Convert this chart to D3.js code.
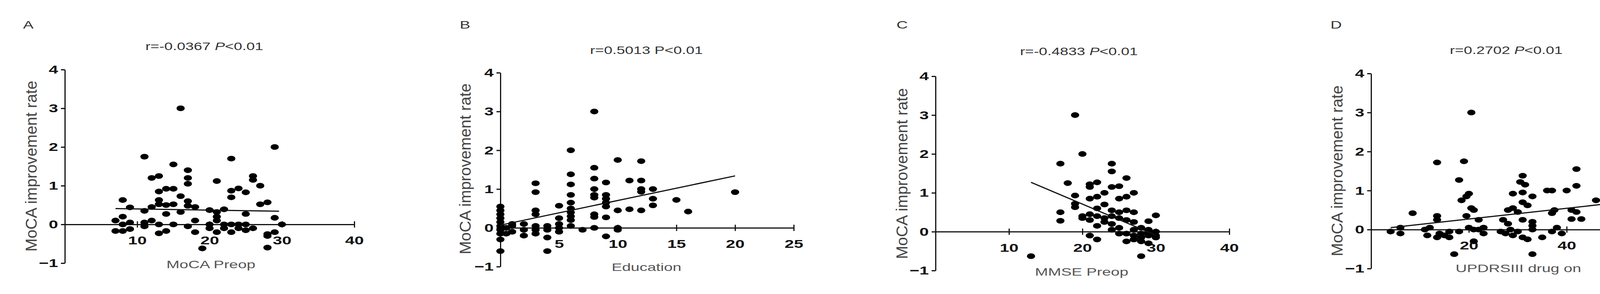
<!DOCTYPE html>
<html>
<head>
<meta charset="utf-8">
<script src="https://d3js.org/d3.v7.min.js"></script>
<style>
  html, body { margin: 0; padding: 0; background: #fff; overflow: hidden; }
  svg { display: block; }
  text { font-family: "Liberation Sans", Arial, sans-serif; }
</style>
</head>
<body>
<div class="vis"></div>
<script>
// ---- data ----
var yTicks = [-1, 0, 1, 2, 3, 4];

var moca_x = [16,29,11,23,15,17,13,12,17,17,21,26,26,27,13,14,15,24,25,23,23,16,8,27,28,13,13,17,17,9,11,12,14,15,14,16,18,20,21,22,21,25,29,8,
  7,7,8,8,9,9,11,11,12,13,13,14,15,17,18,18,19,20,20,21,21,22,22,23,23,24,24,25,25,26,28,28,28,29,30];
var moca_y = [3.0,2.0,1.75,1.7,1.55,1.4,1.25,1.2,1.2,1.05,1.12,1.25,1.15,1.0,0.85,0.92,0.92,0.93,0.83,0.87,0.7,0.73,0.63,0.52,0.57,0.63,0.52,0.6,0.48,0.44,0.35,0.45,0.5,0.52,0.27,0.32,0.45,0.37,0.32,0.39,0.2,0.27,0.17,0.2,
  0.1,-0.17,-0.17,0,-0.12,0.05,0.05,-0.05,0.1,0,-0.23,-0.17,0,-0.05,0.1,-0.2,-0.62,0,-0.1,-0.2,0.1,0,-0.1,-0.2,0,-0.1,0,-0.15,0,-0.1,-0.25,-0.3,-0.6,-0.2,0];

var edu_x = [8,6,10,12,8,6,8,3,9,11,12,6,12,13,8,12,3,20,8,9,6,8,9,13,15,9,6,9,5,13,6,11,10,12,3,16,6,3,8,6,8,9,5,6,5,6,8,7,10,10,9,4,4,4,4,5,5,3,3,3,2,2,2,1,1,1,
  0,0,0,0,0,0,0,0,0,0,0.5,0.5];
var edu_y = [3.0,2.0,1.75,1.72,1.55,1.38,1.27,1.15,1.17,1.22,1.22,1.12,1.0,1.0,1.0,0.93,0.92,0.92,0.85,0.85,0.85,0.78,0.75,0.75,0.72,0.65,0.65,0.55,0.57,0.58,0.5,0.48,0.45,0.45,0.45,0.42,0.4,0.35,0.35,0.3,0.28,0.27,0.25,0.2,0.1,0.05,0,-0.05,0,-0.05,-0.22,-0.6,-0.25,-0.05,0.05,-0.1,0,-0.15,-0.05,0.05,-0.2,-0.05,0.1,-0.1,0.05,0.1,
  0.55,0.45,0.35,0.25,0.15,0.05,-0.05,-0.15,-0.3,-0.6,-0.15,0];

var mmse_x = [19,20,17,24,24,26,18,22,21,21,24,25,27,23,19,21,22,25,26,19,19,23,22,24,17,26,25,27,20,21,22,23,24,25,30,17,20,21,23,24,26,27,29,22,24,25,28,29,30,
  21,22,25,26,26,27,27,28,28,28,29,29,30,29,13,28,30,27];
var mmse_y = [3.0,2.0,1.75,1.75,1.55,1.38,1.25,1.27,1.22,1.15,1.15,1.17,1.0,1.0,0.93,0.85,0.9,0.85,0.9,0.72,0.63,0.7,0.6,0.55,0.5,0.55,0.5,0.5,0.4,0.45,0.4,0.35,0.4,0.35,0.42,0.28,0.35,0.3,0.25,0.2,0.3,0.25,0.27,0.15,0.05,0.1,0.1,0.05,0,
  -0.1,-0.2,-0.05,-0.05,-0.25,-0.1,-0.2,-0.05,-0.15,-0.25,-0.1,-0.3,-0.15,-0.05,-0.63,-0.63,-0.1,0.05];

var updrs_x = [20.5,19,13.5,48,42,18,31,30.5,31.5,42,48,36,37,40,29,20,19.5,31,33,18.5,46,48,31,32,55,20.5,21,28,29,30,37.5,41,42,37,8.5,13.5,19.5,13.5,22,27,31,33,41,43,52,57,
  4,6,6,11,11.5,12,13.5,14,15,16,16,18,20,21,22,23,23,26.5,27.5,28,28.5,29,30,31,32,33,33,35,37,38,39,21,17,33];
var updrs_y = [3.0,1.75,1.72,2.0,1.55,1.27,1.38,1.22,1.15,1.12,1.22,1.0,1.0,1.0,0.92,0.92,0.85,0.95,0.85,0.75,0.75,0.78,0.7,0.62,0.62,0.55,0.5,0.5,0.55,0.45,0.5,0.5,0.45,0.42,0.42,0.35,0.35,0.25,0.25,0.25,0.25,0.2,0.27,0.27,0.35,0.35,
  -0.05,0.05,-0.1,0,-0.15,0.05,-0.2,-0.1,-0.15,-0.05,-0.2,-0.05,0.05,0,0,0.05,-0.1,-0.05,-0.1,0.15,0,-0.15,-0.05,-0.2,-0.25,0.1,0,-0.2,-0.05,0.05,-0.1,-0.3,-0.63,-0.63];

// fitted lines: [x0, y0, x1, y1]
var fitA = [7, 0.41, 29.6, 0.34];
var fitB = [0, 0.07, 20, 1.34];
var fitC = [13, 1.27, 30, -0.09];
var fitD = [4, 0.05, 57, 0.78];

// layout in pixels
var panels = [
  { letter: "A", r: "r=-0.0367 ", italicP: true, xlab: "MoCA Preop", xs: moca_x, ys: moca_y, fit: fitA,
    xMax: 40, xTicks: [10, 20, 30, 40],
    left: 166, right: 907, top: 178, bottom: 673, letterX: 59, titleX: 523, titleY: 128, ylabX: 80, ylabY: 425, xlabX: 540, xlabY: 686 },
  { letter: "B", r: "r=0.5013 ", italicP: false, xlab: "Education", xs: edu_x, ys: edu_y, fit: fitB,
    xMax: 25, xTicks: [5, 10, 15, 20, 25],
    left: 1281, right: 2032, top: 186, bottom: 682, letterX: 1177, titleX: 1655, titleY: 138, ylabX: 1191, ylabY: 432, xlabX: 1655, xlabY: 693 },
  { letter: "C", r: "r=-0.4833 ", italicP: true, xlab: "MMSE Preop", xs: mmse_x, ys: mmse_y, fit: fitC,
    xMax: 40, xTicks: [10, 20, 30, 40],
    left: 2395, right: 3147, top: 195, bottom: 692, letterX: 2295, titleX: 2762, titleY: 141, ylabX: 2309, ylabY: 444, xlabX: 2769, xlabY: 705 },
  { letter: "D", r: "r=0.2702 ", italicP: true, xlab: "UPDRSIII drug on", xs: updrs_x, ys: updrs_y, fit: fitD,
    xMax: 60, xTicks: [20, 40, 60],
    left: 3510, right: 4261, top: 188, bottom: 687, letterX: 3406, titleX: 3856, titleY: 138, ylabX: 3423, ylabY: 437, xlabX: 3887, xlabY: 696 }
];

// the reference is stretched sideways: widen glyphs and dots by K
var W = 4316, H = 752, K = 1.436;
var svg = d3.select(".vis").append("svg").attr("width", W).attr("height", H);

function label(g, x, y, size, fill) {
  return g.append("text")
    .attr("transform", `translate(${x},${y}) scale(${K},1)`)
    .attr("font-size", size).attr("fill", fill);
}

panels.forEach(function (p) {
  var x = d3.scaleLinear().domain([0, p.xMax]).range([p.left, p.right]);
  var y = d3.scaleLinear().domain([-1, 4]).range([p.bottom, p.top]);
  var g = svg.append("g");

  label(g, p.letterX, 73, 28, "#333").text(p.letter);

  var t = label(g, p.titleX, p.titleY, 27, "#333").attr("text-anchor", "middle");
  t.append("tspan").text(p.r);
  t.append("tspan").attr("font-style", p.italicP ? "italic" : "normal").text("P");
  t.append("tspan").text("<0.01");

  // y axis
  g.append("g").attr("transform", `translate(${p.left},0)`)
    .call(d3.axisLeft(y).tickValues(yTicks).tickFormat(d3.format("d")).tickSize(10).tickSizeOuter(0).tickPadding(2))
    .call(a => a.selectAll("path,line").attr("stroke", "#111").attr("stroke-width", 3))
    .call(a => a.selectAll("text").attr("font-size", 30).attr("font-weight", "bold")
      .attr("transform", `scale(${K},1)`)
      .attr("font-family", "Liberation Sans, Arial, sans-serif").attr("fill", "#111"));

  // x axis sits at y = 0
  g.append("g").attr("transform", `translate(0,${y(0)})`)
    .call(d3.axisBottom(x).tickValues(p.xTicks).tickSize(8).tickSizeOuter(0).tickPadding(22))
    .call(a => a.selectAll("path,line").attr("stroke", "#111").attr("stroke-width", 3))
    .call(a => a.selectAll("line").attr("y1", -8))
    .call(a => a.selectAll("text").attr("font-size", 30).attr("font-weight", "bold")
      .attr("transform", `scale(${K},1)`)
      .attr("font-family", "Liberation Sans, Arial, sans-serif").attr("fill", "#111"));

  g.append("text")
    .attr("transform", `translate(${p.ylabX},${p.ylabY}) scale(${K},1) rotate(-90)`)
    .attr("text-anchor", "middle").attr("dy", "0.35em")
    .attr("font-size", 28).attr("fill", "#444")
    .attr("textLength", 437).attr("lengthAdjust", "spacingAndGlyphs")
    .text("MoCA improvement rate");

  label(g, p.xlabX, p.xlabY, 28, "#555").attr("text-anchor", "middle").text(p.xlab);

  g.append("g").selectAll("ellipse")
    .data(d3.range(p.xs.length))
    .join("ellipse")
    .attr("cx", i => x(p.xs[i]))
    .attr("cy", i => y(p.ys[i]))
    .attr("rx", 7.3 * K)
    .attr("ry", 7.3)
    .attr("fill", "#000");

  g.append("line")
    .attr("x1", x(p.fit[0])).attr("y1", y(p.fit[1]))
    .attr("x2", x(p.fit[2])).attr("y2", y(p.fit[3]))
    .attr("stroke", "#111").attr("stroke-width", 3);
});
</script>
</body>
</html>
